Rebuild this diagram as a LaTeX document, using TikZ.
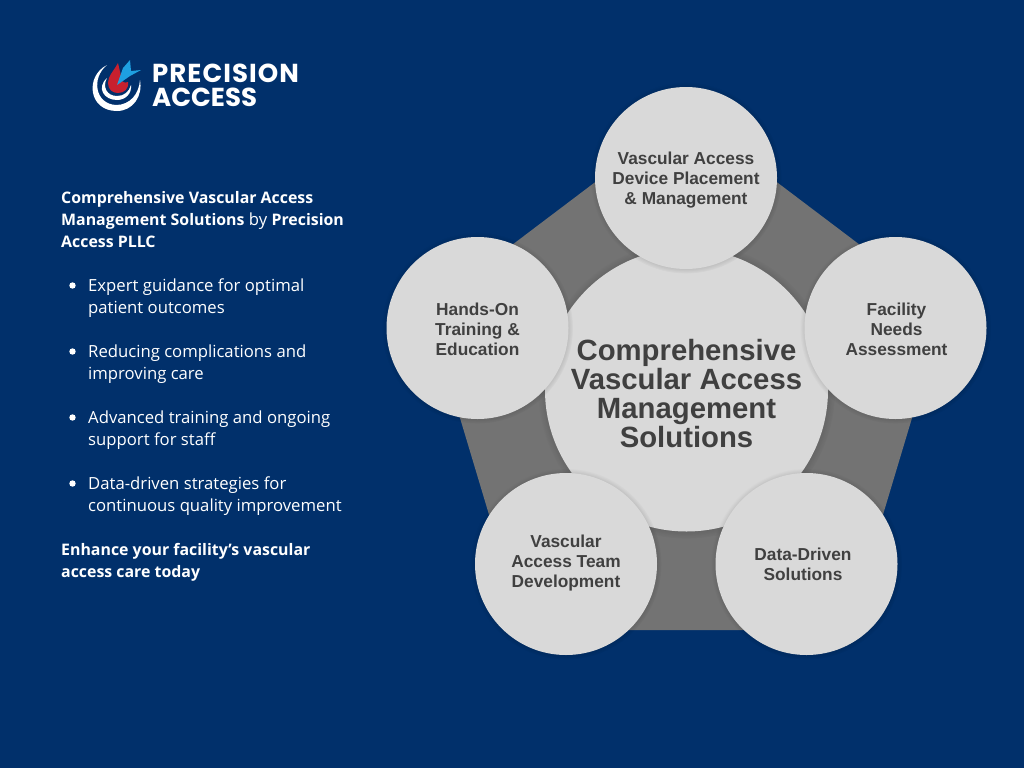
\documentclass[tikz,border=0pt]{standalone}
\usepackage{fontspec}
\usepackage{tikz}
\usetikzlibrary{shadows,fadings,positioning}
\setmainfont{Open Sans}
\newfontfamily\circlefont{Liberation Sans}
\newfontfamily\logofont{Poppins}
\definecolor{navy}{RGB}{1,48,107}
\definecolor{slab}{RGB}{115,115,115}
\definecolor{disc}{RGB}{217,217,217}
\definecolor{ink}{RGB}{64,64,64}
\definecolor{logored}{RGB}{200,32,46}
\definecolor{logoblue}{RGB}{30,160,225}
\newcommand{\heavy}[1]{{\fontsize{15.9}{22}\selectfont\bfseries #1}}
\tikzset{
  bubble/.style={circle,fill=disc,inner sep=0pt,minimum size=182pt,
    circular drop shadow={shadow xshift=0pt,shadow yshift=0pt,shadow scale=1.05,opacity=.3,fill=black}},
  bubbletext/.style={text=ink,inner sep=0pt,align=center,
    font=\circlefont\bfseries\fontsize{17.3}{20}\selectfont},
  sidetext/.style={anchor=west,text=white,inner sep=0pt,align=left,
    font=\fontsize{16.7}{22}\selectfont},
  logotext/.style={anchor=west,text=white,inner sep=0pt,font=\logofont\bfseries\fontsize{26}{26}\selectfont},
}
\begin{document}
\begin{tikzpicture}[x=1pt,y=-1pt]
\fill[navy] (0,0) rectangle (1024,768);
\useasboundingbox (0,0) rectangle (1024,768);
% logo
\fill[white] (107,65) .. controls (85,76) and (88,111) .. (117,111) .. controls (133,111) and (143,96) .. (140,80)
  .. controls (139,94) and (130,105) .. (116,105) .. controls (95,104) and (91,78) .. (107,65) -- cycle;
\fill[white] (107,78) .. controls (96,88) and (104,100) .. (117,100) .. controls (126,100) and (132,93) .. (131,85)
  .. controls (129,92) and (124,96) .. (117,96) .. controls (107,96) and (102,87) .. (107,78) -- cycle;
\fill[logored] (118,63) .. controls (113,72) and (108,76) .. (108,83) .. controls (108,90) and (113,93) .. (118,93)
  .. controls (124,93) and (129,89) .. (128,82) .. controls (124,84) and (120,81) .. (121,76) -- cycle;
\fill[logoblue] (117,85) -- (123,68) -- (130,60) -- (131,71) -- (141,70) -- (130,76) -- cycle;
\node[logotext] (logotop) at (152,73) {\addfontfeature{LetterSpace=4}PRECISION};
\node[logotext] (logobottom) at (152,97) {ACCESS};
% text on the left
\node[sidetext] (intro) at (61,220) {\heavy{Comprehensive Vascular Access}\\\heavy{Management Solutions} by \heavy{Precision}\\\heavy{Access PLLC}};
\foreach \n/\y/\txt in {a/298/{Expert guidance for optimal\\patient outcomes},
  b/364/{Reducing complications and\\improving care},
  c/430/{Advanced training and ongoing\\support for staff},
  d/496/{Data-driven strategies for\\continuous quality improvement}}{
  \node[sidetext] (item\n) at (88,\y) {\txt};
  \fill[white] (72.5,\y-12.5) circle (3.2);
}
\node[sidetext] (closing) at (61,562) {\heavy{Enhance your facility’s vascular}\\\heavy{access care today}};
% pentagon behind the circles
\fill[slab] (686,113.5) -- (944.7,309) -- (848.4,630) -- (523.6,630) -- (427.3,309) -- cycle;
% circles
\node[bubble,minimum size=283pt] (centre) at (686.5,390) {};
\node[bubble] (placement) at (686,178) {};
\node[bubble] (needs) at (895.5,328) {};
\node[bubble] (data) at (806.5,564) {};
\node[bubble] (team) at (566,564) {};
\node[bubble] (training) at (477.5,328) {};
% labels
\node[bubbletext,font=\circlefont\bfseries\fontsize{29.3}{29}\selectfont] (centrelabel) at (686.5,394) {Comprehensive\\Vascular Access\\Management\\Solutions};
\node[bubbletext] (placementlabel) at (686,180.5) {Vascular Access\\Device Placement\\\& Management};
\node[bubbletext] (needslabel) at (896.5,329.5) {Facility\\Needs\\Assessment};
\node[bubbletext] (datalabel) at (803,564) {Data-Driven\\Solutions};
\node[bubbletext] (teamlabel) at (566,563.5) {Vascular\\Access Team\\Development};
\node[bubbletext] (traininglabel) at (477.5,329.5) {Hands-On\\Training \&\\Education};
\end{tikzpicture}
\end{document}
